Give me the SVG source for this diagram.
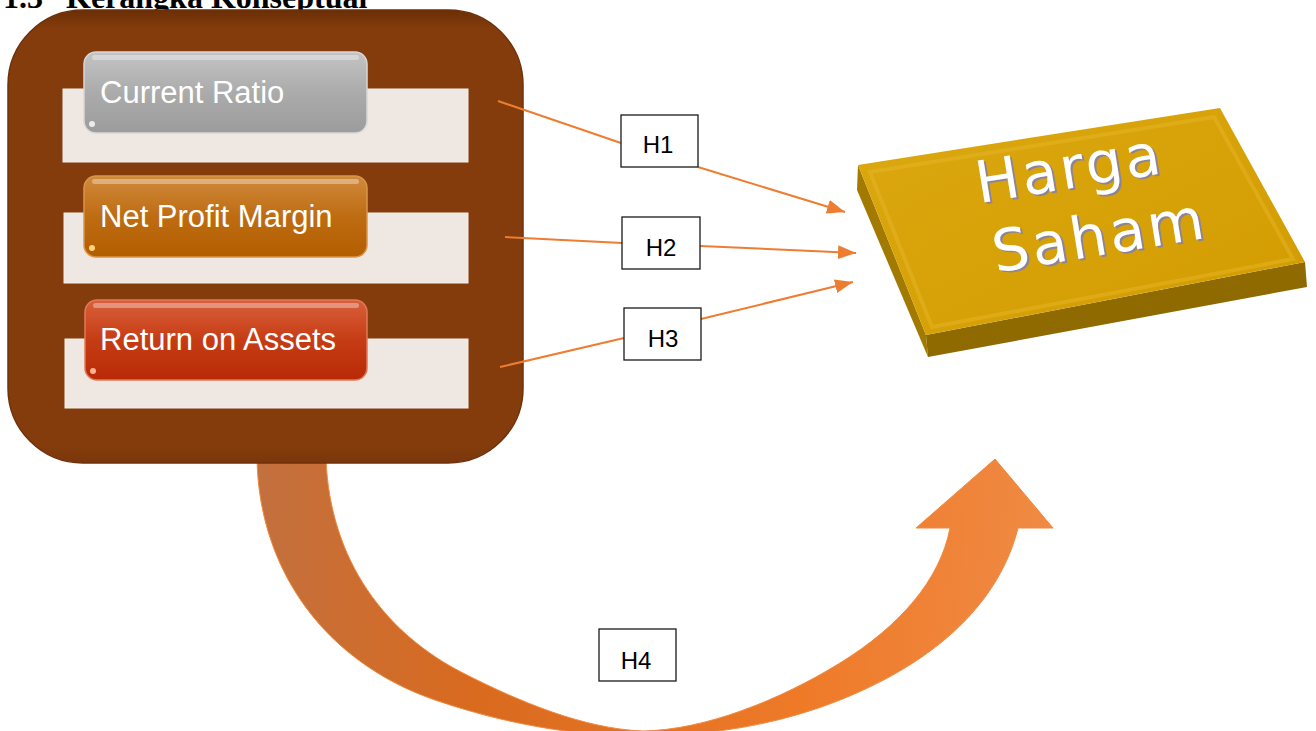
<svg xmlns="http://www.w3.org/2000/svg" width="1316" height="731" viewBox="0 0 1316 731">
  <style>
    .title { font-family: "Liberation Serif", serif; font-weight: bold; font-size: 32px; fill: #000; }
    .strip { fill: #EFE8E2; stroke: #F6EEE8; stroke-width: 1; }
    .btn-label { font-family: "Liberation Sans", Arial, sans-serif; font-size: 31px; fill: #FFFFFF; }
    .hbox { fill: #FFFFFF; stroke: #1A1A1A; stroke-width: 1.3; }
    .hlabel { font-family: "Liberation Sans", Arial, sans-serif; font-size: 24px; fill: #000; text-anchor: middle; }
    .conn { stroke: #ED7D31; stroke-width: 2; fill: none; }
    .slab-text { font-family: "DejaVu Sans", Verdana, sans-serif; font-size: 58px; letter-spacing: 3px; text-anchor: middle; }
    .gloss { fill: #FFFFFF; opacity: 0.35; }
  </style>
  <defs>
    <marker id="arrowhead" markerWidth="20" markerHeight="16" refX="18" refY="8" orient="auto" markerUnits="userSpaceOnUse">
      <path d="M0,1 L18,8 L0,15 Z" fill="#ED7D31"/>
    </marker>
    <linearGradient id="boxShade" x1="0" y1="0" x2="0" y2="1">
      <stop offset="0" stop-color="#6A2E06"/>
      <stop offset="0.04" stop-color="#843C0C"/>
      <stop offset="0.96" stop-color="#843C0C"/>
      <stop offset="1" stop-color="#7A370B"/>
    </linearGradient>
    <linearGradient id="grayBtn" x1="0" y1="0" x2="0" y2="1">
      <stop offset="0" stop-color="#C4C4C4"/>
      <stop offset="0.5" stop-color="#ABABAB"/>
      <stop offset="1" stop-color="#9C9C9C"/>
    </linearGradient>
    <linearGradient id="orangeBtn" x1="0" y1="0" x2="0" y2="1">
      <stop offset="0" stop-color="#D08A3C"/>
      <stop offset="0.5" stop-color="#BE6C12"/>
      <stop offset="1" stop-color="#B35D00"/>
    </linearGradient>
    <linearGradient id="redBtn" x1="0" y1="0" x2="0" y2="1">
      <stop offset="0" stop-color="#D8603C"/>
      <stop offset="0.5" stop-color="#C63C14"/>
      <stop offset="1" stop-color="#B82A06"/>
    </linearGradient>
    <linearGradient id="curveFill" x1="257" y1="459" x2="1053" y2="528" gradientUnits="userSpaceOnUse">
      <stop offset="0" stop-color="#C2703F"/>
      <stop offset="0.3" stop-color="#D96A1E"/>
      <stop offset="0.7" stop-color="#EE7A28"/>
      <stop offset="1" stop-color="#F08A44"/>
    </linearGradient>
    <linearGradient id="slabTop" x1="0" y1="0" x2="1" y2="1">
      <stop offset="0" stop-color="#DCA810"/>
      <stop offset="1" stop-color="#D29C00"/>
    </linearGradient>
  </defs>

  <!-- section heading, partly above the frame -->
  <g id="heading">
    <text class="title" x="3" y="8">1.3</text>
    <text class="title" x="66" y="8">Kerangka Konseptual</text>
  </g>

  <!-- curved arrow from the ratio panel up to the price block -->
  <g id="node-h4-arrow">
    <path d="M257,459 C259,570 325,662 435,700 C505,724 575,736 640,736 C705,736 775,726 840,700 C940,660 1000,600 1018,528 L1053,528 L995,459 L916,528 L950,528 C940,580 900,626 840,663 C780,700 705,730 643,731 C585,729 520,702 465,674 C385,634 330,560 326,459 Z" fill="url(#curveFill)" stroke="#F08A40" stroke-width="1"/>
  </g>

  <!-- panel holding the three ratios -->
  <g id="node-ratios">
    <rect x="8" y="10" width="515" height="453" rx="75" ry="75" fill="url(#boxShade)" stroke="#6F300A" stroke-width="1.5"/>
    <rect class="strip" x="63" y="89" width="405" height="73"/>
    <rect class="strip" x="64" y="213" width="404" height="70"/>
    <rect class="strip" x="65" y="339" width="403" height="69"/>
  </g>

  <g id="node-current-ratio">
    <rect x="84" y="52" width="283" height="81" rx="12" fill="url(#grayBtn)" stroke="#D8D8D8" stroke-width="1.5"/>
    <rect class="gloss" x="92" y="55" width="267" height="5" rx="2.5"/>
    <circle cx="92" cy="124" r="3" fill="#FFFFFF" opacity="0.8"/>
    <text class="btn-label" x="100" y="103">Current Ratio</text>
  </g>

  <g id="node-net-profit-margin">
    <rect x="84" y="176" width="283" height="81" rx="12" fill="url(#orangeBtn)" stroke="#D9954A" stroke-width="1.5"/>
    <rect class="gloss" x="92" y="179" width="267" height="5" rx="2.5"/>
    <circle cx="92" cy="248" r="3" fill="#FFE08A" opacity="0.9"/>
    <text class="btn-label" x="100" y="227">Net Profit Margin</text>
  </g>

  <g id="node-roa">
    <rect x="85" y="300" width="282" height="80" rx="12" fill="url(#redBtn)" stroke="#E07A5A" stroke-width="1.5"/>
    <rect class="gloss" x="93" y="303" width="266" height="5" rx="2.5"/>
    <circle cx="93" cy="371" r="3" fill="#FFC0A0" opacity="0.9"/>
    <text class="btn-label" x="100" y="350">Return on Assets</text>
  </g>

  <!-- stock price block -->
  <g id="node-harga-saham">
    <polygon points="858,165 926,335 928,357 857,190" fill="#A37A00"/>
    <polygon points="926,335 1305,262 1307,287 928,357" fill="#8E6A00"/>
    <polygon points="858,165 1220,108 1305,262 926,335" fill="url(#slabTop)"/>
    <polygon points="870,172 1214,117 1293,259 932,327" fill="none" stroke="#E6B628" stroke-width="4" opacity="0.5"/>
    <g transform="rotate(-9.3 1072 186)">
      <text class="slab-text" x="1074" y="190" fill="#8F8496">Harga</text>
      <text class="slab-text" x="1072" y="188" fill="#FFFFFF">Harga</text>
    </g>
    <g transform="rotate(-9.3 1102 252)">
      <text class="slab-text" x="1104" y="257" fill="#8F8496">Saham</text>
      <text class="slab-text" x="1102" y="255" fill="#FFFFFF">Saham</text>
    </g>
  </g>

  <!-- hypothesis connectors -->
  <g id="connectors">
    <line class="conn" x1="498" y1="101" x2="621" y2="143"/>
    <line class="conn" x1="698" y1="167" x2="845" y2="212" marker-end="url(#arrowhead)"/>
    <line class="conn" x1="505" y1="237" x2="622" y2="243"/>
    <line class="conn" x1="700" y1="246" x2="856" y2="253" marker-end="url(#arrowhead)"/>
    <line class="conn" x1="500" y1="367" x2="624" y2="338"/>
    <line class="conn" x1="701" y1="319" x2="853" y2="282" marker-end="url(#arrowhead)"/>
  </g>

  <g id="node-h1">
    <rect class="hbox" x="621" y="115" width="77" height="52"/>
    <text class="hlabel" x="658" y="153">H1</text>
  </g>
  <g id="node-h2">
    <rect class="hbox" x="622" y="217" width="78" height="52"/>
    <text class="hlabel" x="661" y="256">H2</text>
  </g>
  <g id="node-h3">
    <rect class="hbox" x="624" y="308" width="77" height="52"/>
    <text class="hlabel" x="663" y="347">H3</text>
  </g>
  <g id="node-h4">
    <rect class="hbox" x="599" y="629" width="77" height="52"/>
    <text class="hlabel" x="636" y="669">H4</text>
  </g>
</svg>
